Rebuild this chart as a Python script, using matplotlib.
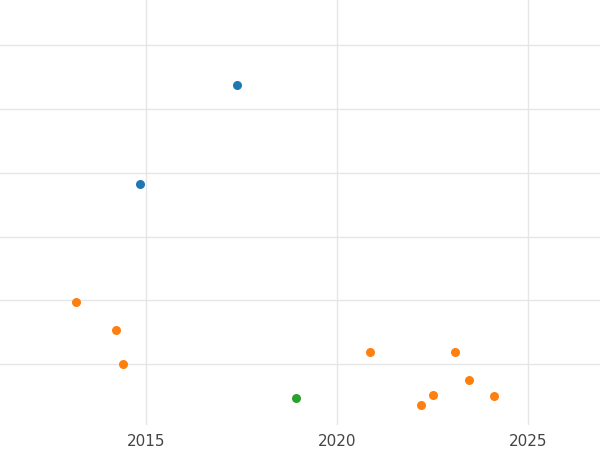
import matplotlib
matplotlib.use("Agg")
import matplotlib.pyplot as plt

blue_x = [2017.38, 2014.85]
blue_y = [5.37, 3.83]
orange_x = [2013.17, 2014.22, 2014.40, 2020.86, 2023.09, 2023.46, 2022.51, 2022.20, 2024.11]
orange_y = [1.97, 1.53, 1.00, 1.19, 1.19, 0.75, 0.51, 0.36, 0.50]
green_x = [2018.93]
green_y = [0.47]
xticks = [2015, 2020, 2025]

fig = plt.figure(figsize=(6, 4.5), dpi=100)
ax = fig.add_axes([0, 0.055, 1, 0.945])
ax.set_xlim(2011.18, 2026.88)
ax.set_ylim(0.04, 6.71)
ax.set_xticks(xticks)
ax.set_yticks([1, 2, 3, 4, 5, 6])
ax.set_yticklabels([])
ax.tick_params(axis='y', length=0)
ax.tick_params(axis='x', length=0, labelsize=11, colors='#444444', pad=6)
ax.grid(True, color='#e6e6e6', linewidth=1)
ax.set_axisbelow(True)
for s in ax.spines.values():
    s.set_visible(False)
ax.scatter(blue_x, blue_y, color='#1f77b4', s=30, zorder=3)
ax.scatter(orange_x, orange_y, color='#ff7f0e', s=30, zorder=3)
ax.scatter(green_x, green_y, color='#2ca02c', s=30, zorder=3)
fig.savefig("out.png", dpi=100)
